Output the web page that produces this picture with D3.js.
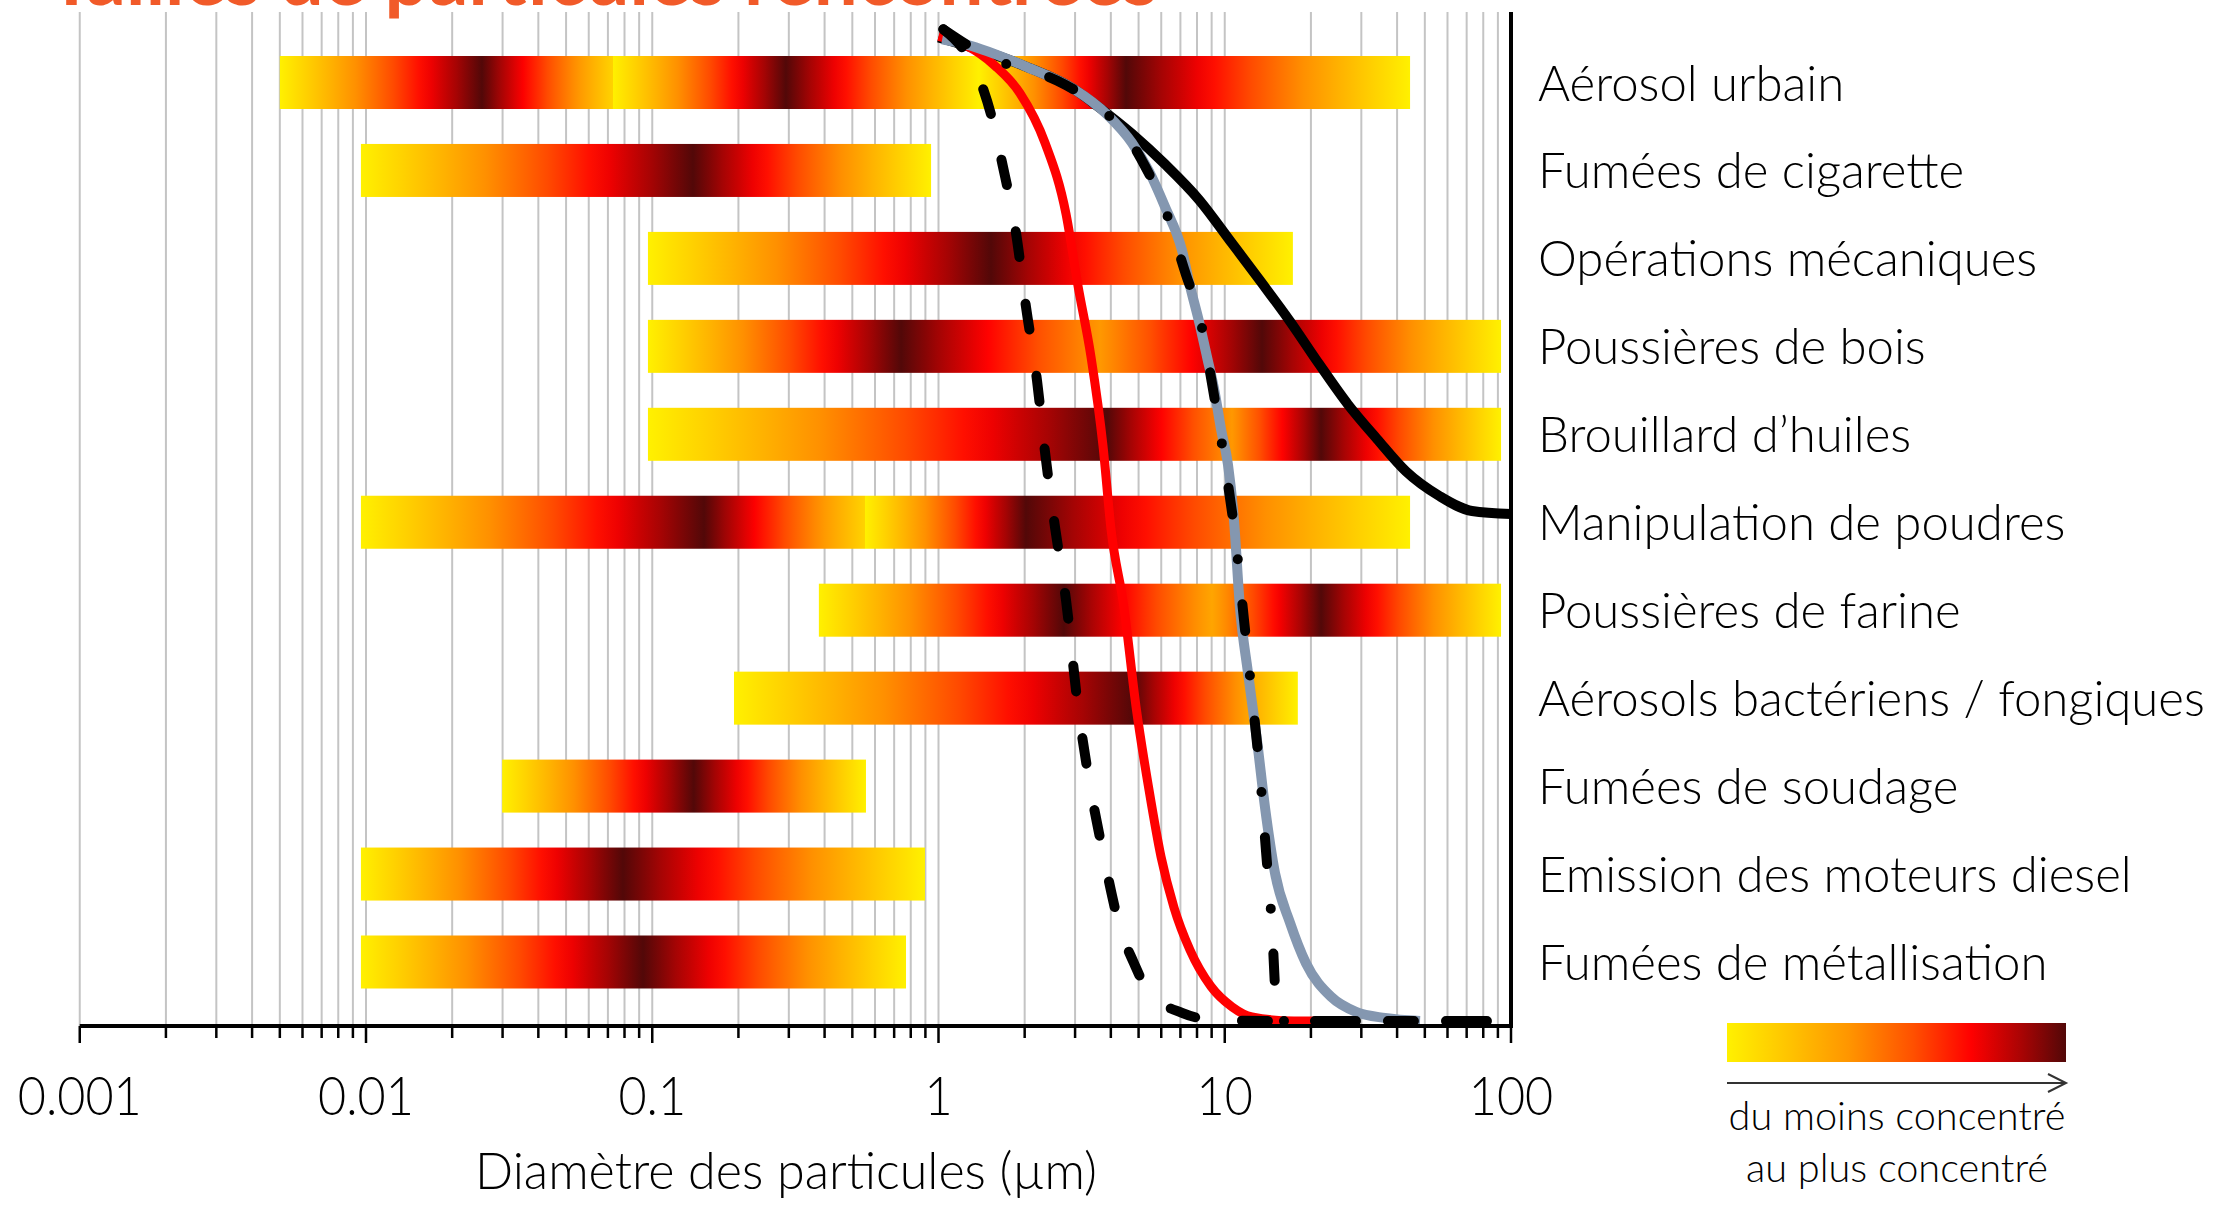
<!DOCTYPE html>
<html><head><meta charset="utf-8">
<script src="https://cdn.jsdelivr.net/npm/d3@7"></script>
<style>
html,body{margin:0;padding:0;background:#fff;}
svg{display:block;}
text{font-family:Lato,'Open Sans',sans-serif;}
</style></head><body>
<svg id="chart" width="2215" height="1205"></svg>
<script>
// ---------- DATA ----------
const titleText = "Tailles de particules rencontrées";
const categories = [
  "Aérosol urbain","Fumées de cigarette","Opérations mécaniques","Poussières de bois",
  "Brouillard d’huiles","Manipulation de poudres","Poussières de farine",
  "Aérosols bactériens / fongiques","Fumées de soudage","Emission des moteurs diesel",
  "Fumées de métallisation"
];
// concentration profile along each bar: [diameter µm, level 0 (least) .. 1 (most)]
const barProfiles = [
  [[0.005,0],[0.0254,1],[0.0729,0.12],[0.0729,0],[0.293,1],[1.385,0],[4.52,1],[44.4,0]],
  [[0.0096,0],[0.1388,1],[0.942,0]],
  [[0.0966,0],[1.525,1],[17.3,0]],
  [[0.0966,0],[0.74,1],[3.67,0.35],[13.5,1],[92.3,0]],
  [[0.0966,0],[3.88,1],[10.6,0.35],[21.7,1],[92.3,0]],
  [[0.0096,0],[0.1517,1],[0.554,0.12],[0.554,0],[2.02,1],[44.4,0]],
  [[0.382,0],[2.74,1],[9.03,0.3],[21.7,1],[92.3,0]],
  [[0.193,0],[4.78,1],[18.0,0]],
  [[0.0299,0],[0.1396,1],[0.558,0]],
  [[0.0096,0],[0.079,1],[0.897,0]],
  [[0.0096,0],[0.0928,1],[0.770,0]]
];
const rampLevels = [0, 0.18, 0.36, 0.55, 0.72, 0.87, 1];
const rampColors = ['#FFF100','#FFC400','#FF9500','#FF5000','#FF0000','#A80404','#520808'];

// curves: [diameter µm, percent]
const inhalableCurve = [[1.0,97],[1.99,94.2],[2.975,91.9],[3.637,90.1],[4.742,87.5],[6.183,84.5],[8.128,81.0],[10.6,76.7],[13.38,72.9],[16.9,69.0],[21.35,64.8],[26.95,60.8],[34.03,57.4],[42.97,54.2],[56.03,51.8],[73.07,50.3],[100,50.0]];
const respirableCurve = [[1.0,97.1],[1.248,96.2],[1.576,94.2],[1.926,91.5],[2.356,86.6],[2.789,79.6],[3.071,72.5],[3.41,65.5],[3.756,56.7],[4.006,48.5],[4.446,40.8],[4.898,31.0],[5.437,22.8],[5.989,16.2],[6.647,11.2],[7.56,7.0],[8.954,3.4],[10.6,1.4],[12.45,0.4],[17.46,0],[22.76,0]];
const thoracicCurve = [[1.03,96.8],[1.248,96.3],[1.99,94.2],[2.975,91.9],[3.879,89.4],[4.742,86.6],[5.437,83.8],[6.183,80.3],[7.09,76.0],[7.56,72.5],[8.128,69.0],[8.67,65.5],[9.24,61.9],[9.70,58.4],[10.26,54.9],[10.77,49.4],[11.3,40.8],[12.06,34.3],[12.96,27.7],[13.82,21.1],[14.98,14.6],[16.9,9.7],[19.22,5.7],[23.5,2.4],[28.74,0.9],[36.29,0.3],[48.1,0]];
const pm25Curve = [[1.04,97.8],[1.248,95.4],[1.433,91.9],[1.552,88.6],[1.669,84.6],[1.868,77.6],[2.022,70.4],[2.208,63.2],[2.356,56.1],[2.553,48.7],[2.789,41.5],[3.071,31.0],[3.356,23.8],[3.756,16.6],[4.306,9.2],[4.819,5.7],[5.437,2.8],[7.09,0.8],[9.24,0.1],[15,0],[100,0]];
const pm10Curve = [[1.04,97.8],[1.669,94.5],[2.071,93.8],[2.789,92.3],[3.637,90.1],[4.446,87.7],[5.264,84.3],[6.084,80.6],[7.321,73.6],[8.128,69.7],[9.097,62.3],[10.02,54.9],[10.95,47.1],[11.68,39.5],[12.45,32.1],[13.28,24.3],[13.94,16.7],[14.63,9.2],[15.1,2.0],[15.6,0],[100,0]];

const tickLabels = ["0.001","0.01","0.1","1","10","100"];
const tickValues = [0.001,0.01,0.1,1,10,100];
const xTitle = "Diamètre des particules (µm)";
const legendLines = ["du moins concentré","au plus concentré"];

// ---------- LAYOUT ----------
const svg = d3.select("#chart");
const x = d3.scaleLog().domain([0.001,100]).range([79.75,1511]);
const y = d3.scaleLinear().domain([0,100]).range([1021,7]);
const rows = d3.scalePoint().domain(categories).range([82.5,962]);
const barH = 53;
const axisY = 1026, plotTop = 12;
const ramp = d3.scaleLinear().domain(rampLevels).range(rampColors).interpolate(d3.interpolateRgb);
const defs = svg.append("defs");

function fitFont(sel, target){
  sel.style("font-size","100px");
  const w = sel.node().getComputedTextLength();
  const fs = 100*target/w;
  sel.style("font-size", fs+"px");
  return fs;
}

// title (clipped at top, as in the original)
const tt = svg.append("text").attr("x",48).attr("y",5).attr("fill","#F15A29")
  .style("font-weight","700").text(titleText);
fitFont(tt,1110);

// minor tick values
const minorVals = [];
for(let k=-3;k<=1;k++) for(let m=1;m<=9;m++) minorVals.push(+(m*Math.pow(10,k)).toPrecision(3));

// grid
svg.append("g").selectAll("line").data(minorVals).join("line")
  .attr("x1",d=>x(d)).attr("x2",d=>x(d)).attr("y1",plotTop).attr("y2",axisY)
  .attr("stroke","#C4C4C4").attr("stroke-width",2);

// bars
categories.forEach((c,i)=>{
  const prof = barProfiles[i];
  const x0 = x(prof[0][0]), x1 = x(prof[prof.length-1][0]);
  const gid = "g"+i;
  const grad = defs.append("linearGradient").attr("id",gid)
    .attr("gradientUnits","userSpaceOnUse").attr("x1",x0).attr("x2",x1).attr("y1",0).attr("y2",0);
  for(let j=0;j<prof.length-1;j++){
    const a=prof[j], b=prof[j+1];
    const xa=x(a[0]), xb=x(b[0]);
    if(xb-xa<0.5){
      grad.append("stop").attr("offset",(xa-x0)/(x1-x0)).attr("stop-color",ramp(a[1]));
      continue;
    }
    const n=16;
    for(let k=0;k<=n;k++){
      const t=k/n;
      const lv=a[1]+(b[1]-a[1])*t;
      grad.append("stop").attr("offset",((xa+(xb-xa)*t)-x0)/(x1-x0)).attr("stop-color",ramp(lv));
    }
  }
  svg.append("rect").attr("x",x0).attr("width",x1-x0)
    .attr("y",rows(c)-barH/2).attr("height",barH).attr("fill","url(#"+gid+")");
});

// curves
const line = d3.line().x(d=>x(d[0])).y(d=>y(d[1])).curve(d3.curveMonotoneX);
const cg = svg.append("g").attr("fill","none");
cg.append("path").datum(inhalableCurve).attr("d",line).attr("stroke","#000").attr("stroke-width",10);
cg.append("path").datum(respirableCurve).attr("d",line).attr("stroke","#FF0000").attr("stroke-width",9);
cg.append("path").datum(thoracicCurve).attr("d",line).attr("stroke","#8497B0").attr("stroke-width",10);
cg.append("path").datum(pm25Curve).attr("d",line).attr("stroke","#000").attr("stroke-width",10)
  .attr("stroke-linecap","round").attr("stroke-dasharray","26,47");
cg.append("path").datum(pm10Curve).attr("d",line).attr("stroke","#000").attr("stroke-width",10)
  .attr("stroke-linecap","round").attr("stroke-dasharray","27,45,0,45");

// right spine
svg.append("line").attr("x1",x(100)).attr("x2",x(100)).attr("y1",plotTop).attr("y2",axisY+2)
  .attr("stroke","#000").attr("stroke-width",4);

// x axis
const ax = svg.append("g").attr("transform",`translate(0,${axisY})`);
ax.selectAll("line.minor").data(minorVals.filter(v=>!tickValues.includes(v))).join("line")
  .attr("x1",d=>x(d)).attr("x2",d=>x(d)).attr("y1",0).attr("y2",12)
  .attr("stroke","#000").attr("stroke-width",2.5);
ax.selectAll("line.major").data(tickValues).join("line")
  .attr("x1",d=>x(d)).attr("x2",d=>x(d)).attr("y1",0).attr("y2",17)
  .attr("stroke","#000").attr("stroke-width",2.5);
ax.append("line").attr("x1",x(0.001)).attr("x2",x(100)).attr("y1",0).attr("y2",0)
  .attr("stroke","#000").attr("stroke-width",4);
// tick labels: taller, narrow digits like the original
const tl = ax.selectAll("text.tick").data(tickValues).join("text")
  .attr("text-anchor","middle").attr("fill","#000")
  .style("font-weight","300").style("font-size","54px").text((d,i)=>tickLabels[i]);
const w0 = tl.filter((d,i)=>i===0).node().getComputedTextLength();
const sx = 124/w0;
tl.attr("transform",d=>`translate(${x(d)},89) scale(${sx},1)`);

const xt = svg.append("text").attr("x",786).attr("y",1189).attr("text-anchor","middle")
  .style("font-weight","300").attr("fill","#000").text(xTitle);
fitFont(xt,622);

// category labels
const lab = svg.append("g").selectAll("text").data(categories).join("text")
  .attr("x",1538).attr("y",d=>rows(d)+18).attr("fill","#000").style("font-weight","300").text(d=>d);
const fsL = fitFont(lab.filter(d=>d==="Aérosols bactériens / fongiques"),667);
lab.style("font-size",fsL+"px");

// legend
const lg = defs.append("linearGradient").attr("id","legendGrad");
rampLevels.forEach((l,i)=>lg.append("stop").attr("offset",l).attr("stop-color",rampColors[i]));
svg.append("rect").attr("x",1727).attr("y",1023).attr("width",339).attr("height",39).attr("fill","url(#legendGrad)");
svg.append("line").attr("x1",1727).attr("x2",2066).attr("y1",1083).attr("y2",1083).attr("stroke","#333").attr("stroke-width",2);
svg.append("path").attr("d","M2048,1074 L2066,1083 L2048,1092").attr("fill","none").attr("stroke","#333").attr("stroke-width",2);
const lt = svg.append("g").selectAll("text").data(legendLines).join("text")
  .attr("x",1897).attr("y",(d,i)=>1130+i*52).attr("text-anchor","middle").attr("fill","#000")
  .style("font-weight","300").text(d=>d);
const fsG = fitFont(lt.filter((d,i)=>i===0),337);
lt.style("font-size",fsG+"px");
</script>
</body></html>
